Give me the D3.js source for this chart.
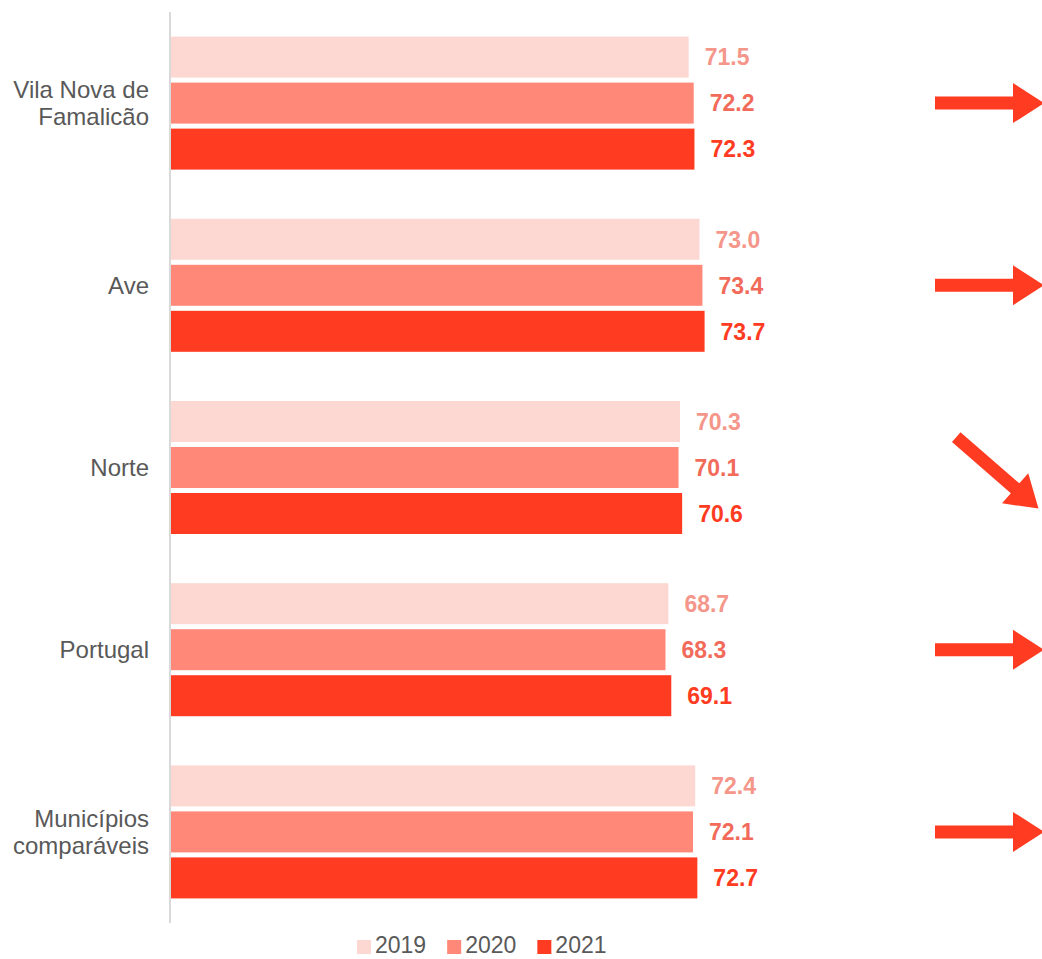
<!DOCTYPE html>
<html>
<head>
<meta charset="utf-8">
<script src="https://cdn.jsdelivr.net/npm/d3@7"></script>
<style>
  html, body { margin: 0; padding: 0; background: #ffffff; }
  svg { display: block; font-family: "Liberation Sans", Arial, sans-serif; }
</style>
</head>
<body>
<svg id="chart" width="1042" height="959"></svg>
<script>
// ---- data ----
const categories = ["Vila Nova de Famalicão", "Ave", "Norte", "Portugal", "Municípios comparáveis"];
const categoryLines = [["Vila Nova de", "Famalicão"], ["Ave"], ["Norte"], ["Portugal"], ["Municípios", "comparáveis"]];
const years = ["2019", "2020", "2021"];
const values2019 = [71.5, 73.0, 70.3, 68.7, 72.4];
const values2020 = [72.2, 73.4, 70.1, 68.3, 72.1];
const values2021 = [72.3, 73.7, 70.6, 69.1, 72.7];
// trend arrow direction in degrees (0 = flat/right, positive = down)
const trendAngles = [0, 0, 41, 0, 0];

// ---- styles ----
const barColors = ["#FDD8D2", "#FF8878", "#FF3B21"];
const labelColors = ["#F5968A", "#F26B5A", "#FF3B21"];
const textGrey = "#595959";
const fontSize = 23;

const svg = d3.select("#chart");
const series = [values2019, values2020, values2021];

const y0 = d3.scaleBand().domain(categories).range([12, 923]).paddingInner(0.27).paddingOuter(0.135);
const y1 = d3.scaleBand().domain(years).range([0, y0.bandwidth()]).paddingInner(0.109).paddingOuter(0);
const x = d3.scaleLinear().domain([0, 100]).range([171, 895]);

// bars
const groups = svg.selectAll("g.grp").data(categories).enter().append("g")
  .attr("class", "grp")
  .attr("transform", d => `translate(0,${y0(d)})`);

years.forEach((yr, si) => {
  groups.append("rect")
    .attr("x", x(0))
    .attr("y", y1(yr))
    .attr("width", (d, i) => x(series[si][i]) - x(0))
    .attr("height", y1.bandwidth())
    .attr("fill", barColors[si]);
  groups.append("text")
    .attr("x", (d, i) => x(series[si][i]) + 16)
    .attr("y", y1(yr) + y1.bandwidth() / 2)
    .attr("dy", "0.36em")
    .attr("font-size", fontSize)
    .attr("font-weight", "bold")
    .attr("fill", labelColors[si])
    .text((d, i) => series[si][i].toFixed(1));
});

// axis line
svg.append("line")
  .attr("x1", 170).attr("x2", 170)
  .attr("y1", 12).attr("y2", 923)
  .attr("stroke", "#D9D9D9").attr("stroke-width", 2);

// category labels
categories.forEach((c, i) => {
  const lines = categoryLines[i];
  const cy = y0(c) + y0.bandwidth() / 2;
  const lh = 27;
  const t = svg.append("text")
    .attr("text-anchor", "end")
    .attr("font-size", 24)
    .attr("fill", textGrey);
  lines.forEach((ln, k) => {
    t.append("tspan")
      .attr("x", 149)
      .attr("y", cy + (k - (lines.length - 1) / 2) * lh)
      .attr("dy", "0.36em")
      .text(ln);
  });
});

// trend arrows
const arrowPath = "M-54,-6.5 L24,-6.5 L24,-20 L55,0 L24,20 L24,6.5 L-54,6.5 Z";
categories.forEach((c, i) => {
  const cy = y0(c) + y0.bandwidth() / 2;
  const ang = trendAngles[i];
  const cx = ang === 0 ? 989 : 997;
  const dy = ang === 0 ? 0 : 5;
  svg.append("path")
    .attr("d", arrowPath)
    .attr("fill", "#FF3B21")
    .attr("transform", `translate(${cx},${cy + dy}) rotate(${ang})`);
});

// legend
const legend = svg.append("g");
let lx = 357;
years.forEach((yr, si) => {
  legend.append("rect")
    .attr("x", lx).attr("y", 940).attr("width", 14).attr("height", 14)
    .attr("fill", barColors[si]);
  const t = legend.append("text")
    .attr("x", lx + 18).attr("y", 953)
    .attr("font-size", fontSize)
    .attr("fill", textGrey)
    .text(yr);
  lx += 18 + t.node().getComputedTextLength() + 21;
});
</script>
</body>
</html>
